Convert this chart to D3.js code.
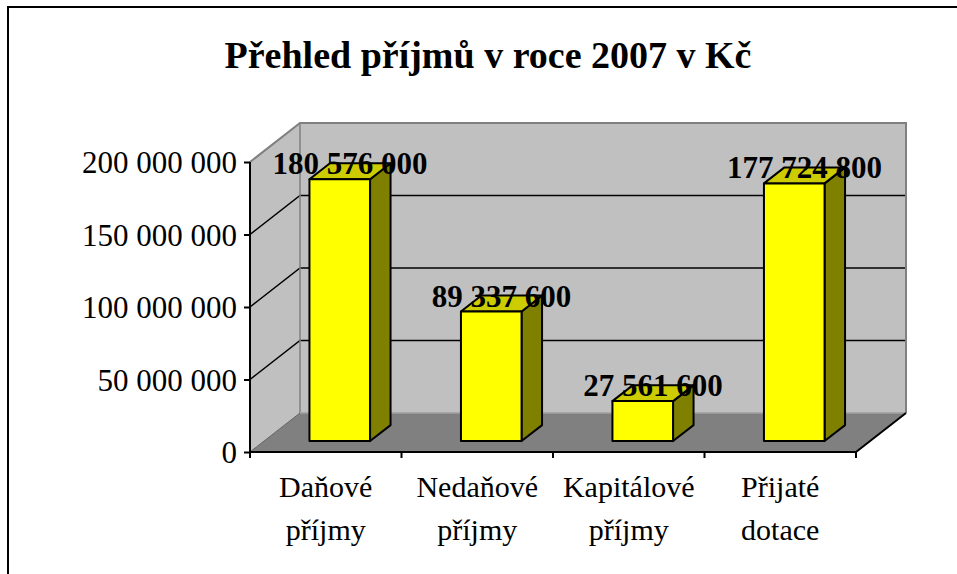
<!DOCTYPE html>
<html>
<head>
<meta charset="utf-8">
<script src="https://cdn.jsdelivr.net/npm/d3@7"></script>
<style>
  body { margin: 0; background: #fff; }
  svg { display: block; }
</style>
</head>
<body>
<div id="app"></div>
<script>
const categories = [["Daňové", "příjmy"], ["Nedaňové", "příjmy"], ["Kapitálové", "příjmy"], ["Přijaté", "dotace"]]
const values = [180576000, 89337600, 27561600, 177724800]
const valueLabels = ["180 576 000", "89 337 600", "27 561 600", "177 724 800"]
const yTicks = [0, 50000000, 100000000, 150000000, 200000000]
const yTickLabels = ["0", "50 000 000", "100 000 000", "150 000 000", "200 000 000"]
const title = "Přehled příjmů v roce 2007 v Kč"

const W = 957, H = 574
const font = "'Liberation Serif', 'Times New Roman', serif"

const svg = d3.select("#app").append("svg").attr("width", W).attr("height", H)

// chart border (right/bottom lie outside the view)
svg.append("rect").attr("x", 8).attr("y", 7).attr("width", 980).attr("height", 600)
  .style("fill", "#fff").style("stroke", "#000").style("stroke-width", 2)

svg.append("text").attr("x", 488).attr("y", 68).attr("text-anchor", "middle")
  .style("font-family", font).style("font-weight", "bold").style("font-size", "38px")
  .text(title)

// front plane scales, depth vector for the 3d look
const x = d3.scaleBand().domain(d3.range(categories.length)).range([250, 856])
const y = d3.scaleLinear().domain([0, 200000000]).range([452, 162])
const DX = 50, DY = 39
const f0 = 0.28, f1 = 0.69
const barW = x.bandwidth() * 0.4

const pts = p => p.map(d => d.join(",")).join(" ")
const x0 = x.range()[0], x1 = x.range()[1]
const yTop = y(200000000), yBase = y(0)

// walls and floor
svg.append("polygon").attr("points", pts([[x0 + DX, yTop - DY], [x1 + DX, yTop - DY], [x1 + DX, yBase - DY], [x0 + DX, yBase - DY]]))
  .style("fill", "#c0c0c0")
svg.append("polygon").attr("points", pts([[x0, yTop], [x0 + DX, yTop - DY], [x0 + DX, yBase - DY], [x0, yBase]]))
  .style("fill", "#c0c0c0")
svg.append("polygon").attr("points", pts([[x0, yBase], [x0 + DX, yBase - DY], [x1 + DX, yBase - DY], [x1, yBase]]))
  .style("fill", "#808080")

// gridlines
yTicks.filter(t => t > 0 && t < 200000000).forEach(t => {
  svg.append("polyline").attr("points", pts([[x0, y(t)], [x0 + DX, y(t) - DY], [x1 + DX, y(t) - DY]]))
    .style("fill", "none").style("stroke", "#000").style("stroke-width", 1.5)
})

// wall edges
svg.append("polyline").attr("points", pts([[x0, yTop], [x0 + DX, yTop - DY], [x1 + DX, yTop - DY], [x1 + DX, yBase - DY]]))
  .style("fill", "none").style("stroke", "#808080").style("stroke-width", 2)
svg.append("line").attr("x1", x0 + DX).attr("y1", yTop - DY).attr("x2", x0 + DX).attr("y2", yBase - DY)
  .style("stroke", "#808080").style("stroke-width", 1.5)
svg.append("line").attr("x1", x0 + DX).attr("y1", yBase - DY).attr("x2", x1 + DX).attr("y2", yBase - DY)
  .style("stroke", "#a0a0a0").style("stroke-width", 1.5)
svg.append("polyline").attr("points", pts([[x0, yBase], [x0 + DX, yBase - DY]]))
  .style("fill", "none").style("stroke", "#606060").style("stroke-width", 1)
svg.append("line").attr("x1", x1).attr("y1", yBase).attr("x2", x1 + DX).attr("y2", yBase - DY)
  .style("stroke", "#000").style("stroke-width", 2)

// axes
const yAxis = svg.append("g").attr("transform", `translate(${x0},0)`)
  .call(d3.axisLeft(y).tickValues(yTicks).tickFormat((d, i) => yTickLabels[i]).tickSize(6).tickPadding(7))
yAxis.select(".domain").remove()
yAxis.append("line").attr("x1", 0).attr("x2", 0).attr("y1", yTop).attr("y2", yBase).style("stroke", "#000").style("stroke-width", 2)
yAxis.selectAll(".tick line").style("stroke-width", 2)
yAxis.selectAll("text").style("font-family", font).style("font-size", "31px").style("fill", "#000").attr("dy", "0.35em")

svg.append("line").attr("x1", x0).attr("x2", x1).attr("y1", yBase).attr("y2", yBase)
  .style("stroke", "#000").style("stroke-width", 2)
const bounds = x.domain().map(d => x(d)).concat([x1])
svg.selectAll(".xtick").data(bounds).enter().append("line")
  .attr("x1", d => d).attr("x2", d => d).attr("y1", yBase).attr("y2", yBase + 6)
  .style("stroke", "#000").style("stroke-width", 2)

const catText = svg.selectAll(".cat").data(categories).enter().append("text")
  .attr("text-anchor", "middle")
  .style("font-family", font).style("font-size", "30px")
catText.each(function (d, i) {
  const cx = x(i) + x.bandwidth() / 2
  d3.select(this).selectAll("tspan").data(d).enter().append("tspan")
    .attr("x", cx).attr("y", (t, j) => 497 + j * 43).text(t => t)
})

// bars
const ddx = (f1 - f0) * DX, ddy = (f1 - f0) * DY
values.forEach((v, i) => {
  const bx0 = x(i) + (x.bandwidth() - barW) / 2 + f0 * DX
  const bx1 = bx0 + barW
  const yt = y(v) - f0 * DY
  const yb = y(0) - f0 * DY
  const g = svg.append("g").style("stroke", "#000").style("stroke-width", 2).style("stroke-linejoin", "round")
  g.append("polygon").attr("points", pts([[bx1, yt], [bx1 + ddx, yt - ddy], [bx1 + ddx, yb - ddy], [bx1, yb]]))
    .style("fill", "#808000")
  g.append("polygon").attr("points", pts([[bx0, yt], [bx1, yt], [bx1 + ddx, yt - ddy], [bx0 + ddx, yt - ddy]]))
    .style("fill", "#cccc00")
  g.append("rect").attr("x", bx0).attr("y", yt).attr("width", barW).attr("height", yb - yt)
    .style("fill", "#ffff00")
})

values.forEach((v, i) => {
  const cx = x(i) + x.bandwidth() / 2 + f0 * DX + ddx / 2
  svg.append("text").attr("x", cx).attr("y", y(v) - f0 * DY - 5).attr("text-anchor", "middle")
    .style("font-family", font).style("font-weight", "bold").style("font-size", "31px")
    .text(valueLabels[i])
})
</script>
</body>
</html>
